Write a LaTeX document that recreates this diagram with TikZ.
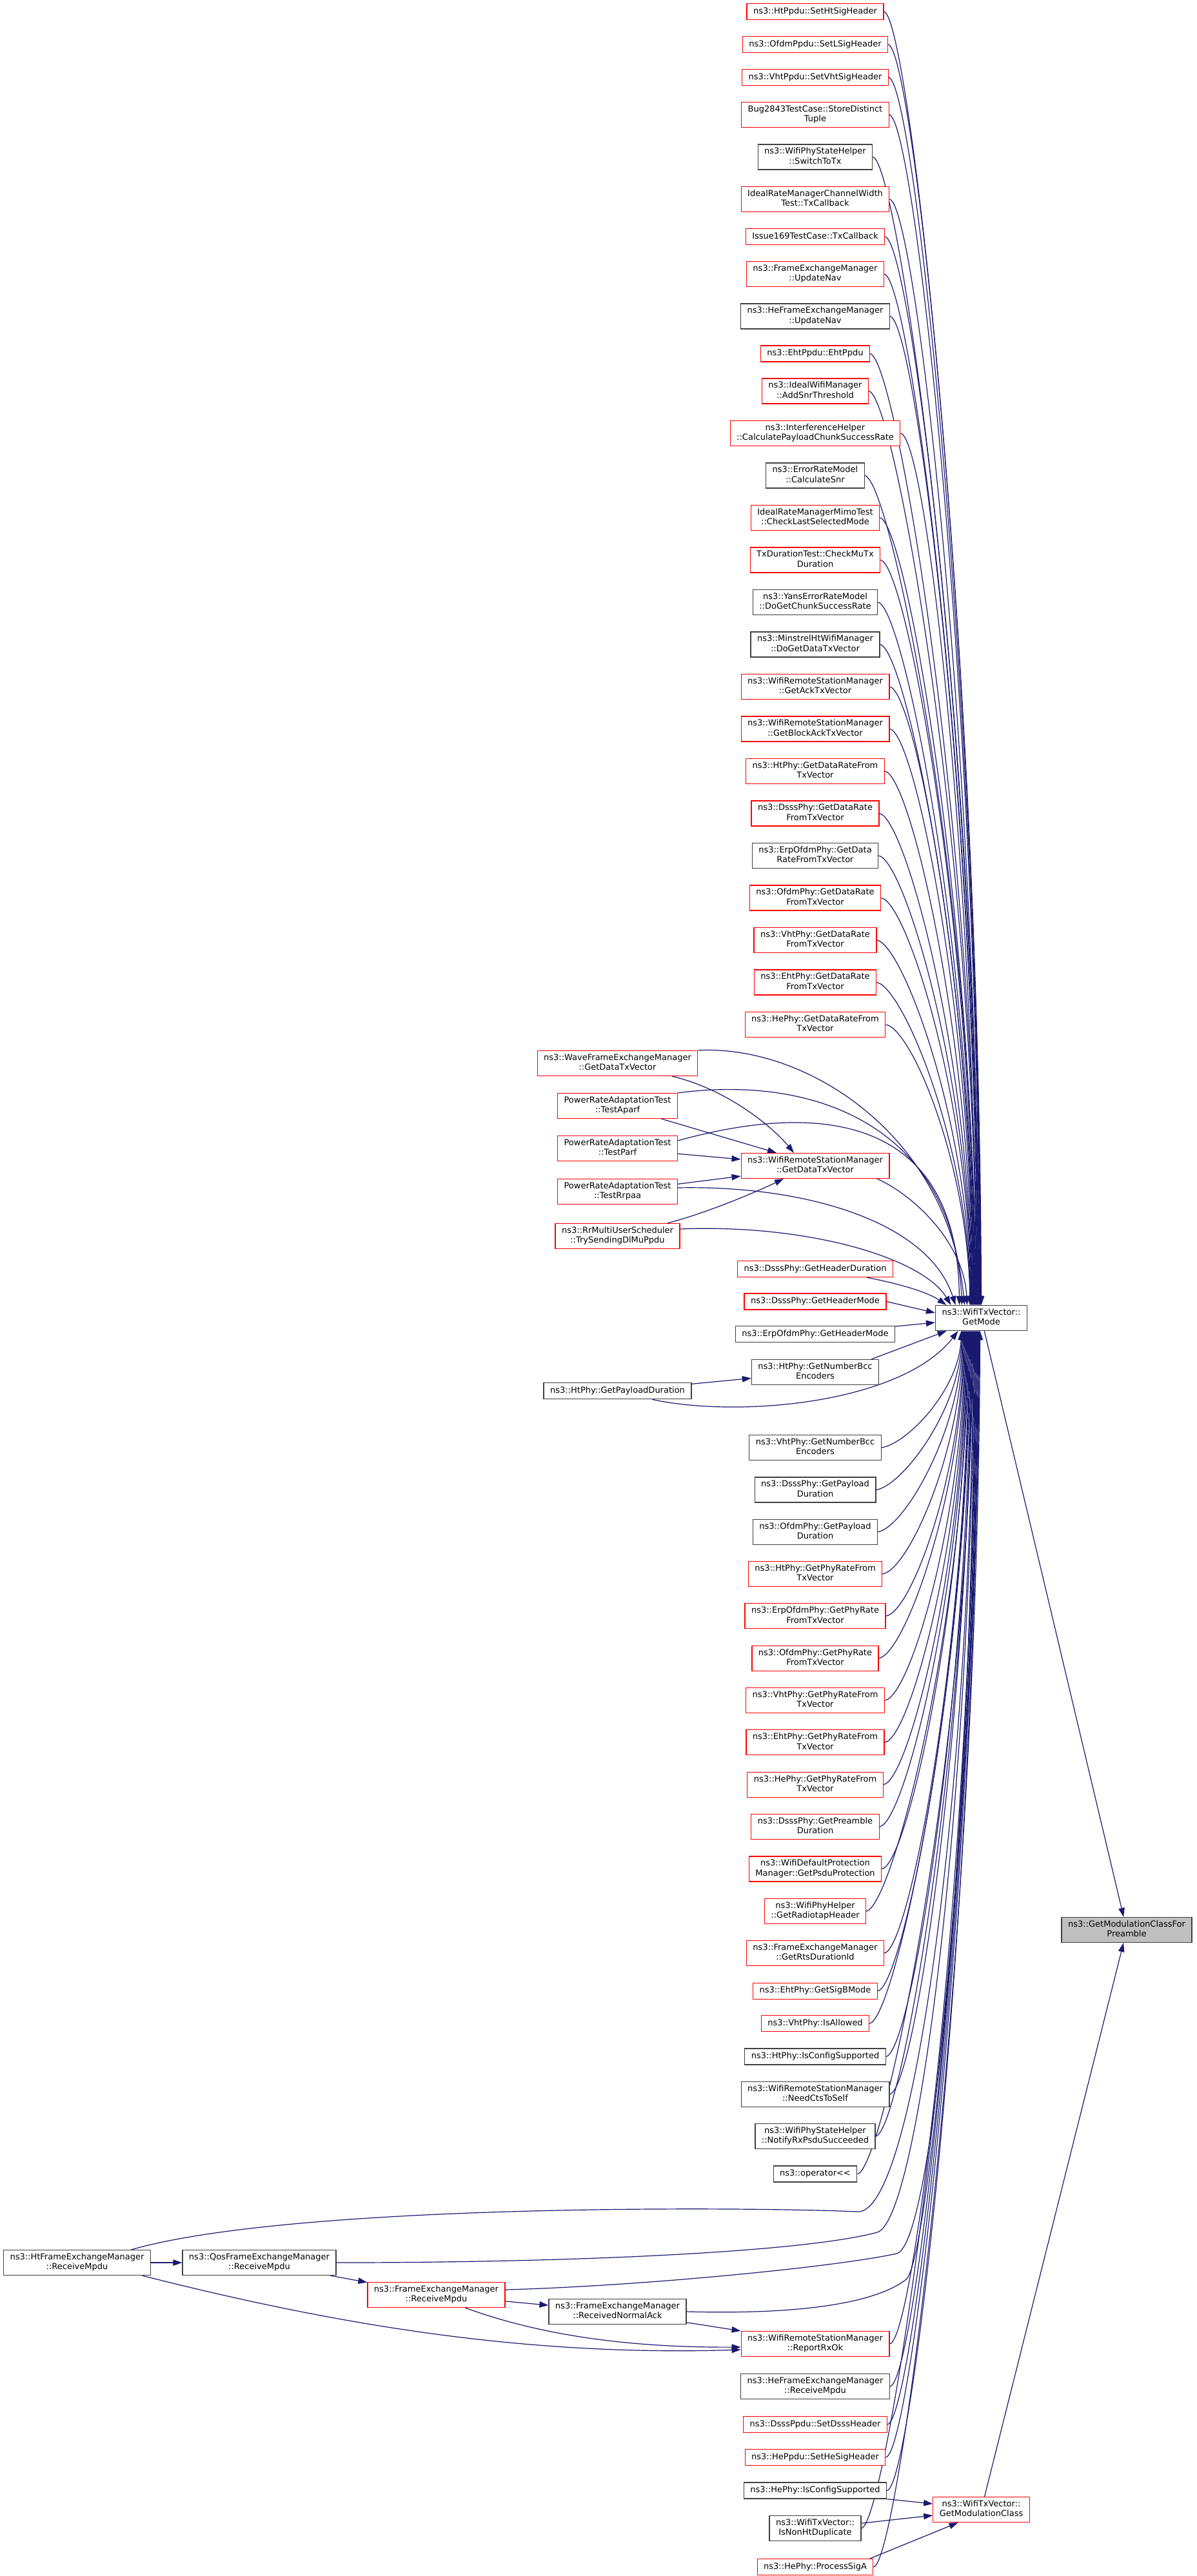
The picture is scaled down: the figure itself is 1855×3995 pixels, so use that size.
\documentclass[tikz,border=0pt]{standalone}
\usepackage{fontspec}
\newfontfamily\dv{DejaVu Sans}
\usetikzlibrary{arrows.meta}
\definecolor{edgec}{HTML}{191970}
\definecolor{redb}{HTML}{FF0000}
\definecolor{blkb}{HTML}{404040}
\definecolor{rootfill}{HTML}{BFBFBF}
\pgfdeclarelayer{bg}
\pgfsetlayers{bg,main}
\newcommand\lone[1]{\strut#1}
\newcommand\ltwo[2]{\strut#1\\\strut#2}
\tikzset{
  nd/.style={draw, line width=1.2pt, fill=white, font=\dv\fontsize{13}{15.4}\selectfont,
    align=center, inner xsep=10pt, inner ysep=2pt, minimum height=25pt, text=black},
  rn/.style={nd, draw=redb},
  bn/.style={nd, draw=blkb},
  two/.style={minimum height=39pt},
  edge/.style={draw=edgec, line width=1.2pt, -{Triangle[length=14pt,width=9.5pt]}},
}
\newcommand\eT[3]{\draw[edge] (#1.east) .. controls +(40,6) and +(-3,-#2) .. ([xshift=#3pt]gm.north);}
\newcommand\eB[3]{\draw[edge] (#1.east) .. controls +(40,-6) and +(-3,#2) .. ([xshift=#3pt]gm.south);}
\begin{document}
\begin{tikzpicture}[x=1pt,y=-1pt]
\useasboundingbox (0,0) rectangle (1855,3995);
% main column
\node[rn] (n1) at (1264,18) {\lone{ns3::HtPpdu::SetHtSigHeader}};
\node[rn] (n2) at (1264,69) {\lone{ns3::OfdmPpdu::SetLSigHeader}};
\node[rn] (n3) at (1264,120) {\lone{ns3::VhtPpdu::SetVhtSigHeader}};
\node[rn,two] (n4) at (1264,178) {\ltwo{Bug2843TestCase::StoreDistinct}{Tuple}};
\node[bn,two] (n5) at (1264,243.5) {\ltwo{ns3::WifiPhyStateHelper}{::SwitchToTx}};
\node[rn,two] (n6) at (1264,309) {\ltwo{IdealRateManagerChannelWidth}{Test::TxCallback}};
\node[rn] (n7) at (1264,367) {\lone{Issue169TestCase::TxCallback}};
\node[rn,two] (n8) at (1264,425) {\ltwo{ns3::FrameExchangeManager}{::UpdateNav}};
\node[bn,two] (n9) at (1264,490.5) {\ltwo{ns3::HeFrameExchangeManager}{::UpdateNav}};
\node[rn] (n10) at (1264,548.5) {\lone{ns3::EhtPpdu::EhtPpdu}};
\node[rn,two] (n11) at (1264,606.5) {\ltwo{ns3::IdealWifiManager}{::AddSnrThreshold}};
\node[rn,two] (n12) at (1264,672) {\ltwo{ns3::InterferenceHelper}{::CalculatePayloadChunkSuccessRate}};
\node[bn,two] (n13) at (1264,737.5) {\ltwo{ns3::ErrorRateModel}{::CalculateSnr}};
\node[rn,two] (n14) at (1264,803) {\ltwo{IdealRateManagerMimoTest}{::CheckLastSelectedMode}};
\node[rn,two] (n15) at (1264,868.5) {\ltwo{TxDurationTest::CheckMuTx}{Duration}};
\node[bn,two] (n16) at (1264,934) {\ltwo{ns3::YansErrorRateModel}{::DoGetChunkSuccessRate}};
\node[bn,two] (n17) at (1264,999.5) {\ltwo{ns3::MinstrelHtWifiManager}{::DoGetDataTxVector}};
\node[rn,two] (n18) at (1264,1065) {\ltwo{ns3::WifiRemoteStationManager}{::GetAckTxVector}};
\node[rn,two] (n19) at (1264,1130.5) {\ltwo{ns3::WifiRemoteStationManager}{::GetBlockAckTxVector}};
\node[rn,two] (n20) at (1264,1196) {\ltwo{ns3::HtPhy::GetDataRateFrom}{TxVector}};
\node[rn,two] (n21) at (1264,1261.5) {\ltwo{ns3::DsssPhy::GetDataRate}{FromTxVector}};
\node[bn,two] (n22) at (1264,1327) {\ltwo{ns3::ErpOfdmPhy::GetData}{RateFromTxVector}};
\node[rn,two] (n23) at (1264,1392.5) {\ltwo{ns3::OfdmPhy::GetDataRate}{FromTxVector}};
\node[rn,two] (n24) at (1264,1458) {\ltwo{ns3::VhtPhy::GetDataRate}{FromTxVector}};
\node[rn,two] (n25) at (1264,1523.5) {\ltwo{ns3::EhtPhy::GetDataRate}{FromTxVector}};
\node[rn,two] (n26) at (1264,1589) {\ltwo{ns3::HePhy::GetDataRateFrom}{TxVector}};
\node[rn,two] (wrsm) at (1264,1808) {\ltwo{ns3::WifiRemoteStationManager}{::GetDataTxVector}};
% left cluster
\node[rn,two] (wave) at (957.5,1649) {\ltwo{ns3::WaveFrameExchangeManager}{::GetDataTxVector}};
\node[rn,two] (aparf) at (957.5,1715) {\ltwo{PowerRateAdaptationTest}{::TestAparf}};
\node[rn,two] (parf) at (957.5,1781) {\ltwo{PowerRateAdaptationTest}{::TestParf}};
\node[rn,two] (rrpaa) at (957.5,1848) {\ltwo{PowerRateAdaptationTest}{::TestRrpaa}};
\node[rn,two] (rrmu) at (957.5,1917) {\ltwo{ns3::RrMultiUserScheduler}{::TrySendingDlMuPpdu}};
\node[rn] (hd) at (1264,1968) {\lone{ns3::DsssPhy::GetHeaderDuration}};
\node[rn] (hm1) at (1264,2018.5) {\lone{ns3::DsssPhy::GetHeaderMode}};
\node[bn] (hm2) at (1264,2069) {\lone{ns3::ErpOfdmPhy::GetHeaderMode}};
\node[bn,two] (bcc) at (1264,2128) {\ltwo{ns3::HtPhy::GetNumberBcc}{Encoders}};
\node[bn] (gpd) at (957.5,2157.3) {\lone{ns3::HtPhy::GetPayloadDuration}};
\node[bn,two] (m32) at (1264,2245) {\ltwo{ns3::VhtPhy::GetNumberBcc}{Encoders}};
\node[bn,two] (m33) at (1264,2310.5) {\ltwo{ns3::DsssPhy::GetPayload}{Duration}};
\node[bn,two] (m34) at (1264,2375.7) {\ltwo{ns3::OfdmPhy::GetPayload}{Duration}};
\node[rn,two] (m35) at (1264,2441) {\ltwo{ns3::HtPhy::GetPhyRateFrom}{TxVector}};
\node[rn,two] (m36) at (1264,2506.3) {\ltwo{ns3::ErpOfdmPhy::GetPhyRate}{FromTxVector}};
\node[rn,two] (m37) at (1264,2571.7) {\ltwo{ns3::OfdmPhy::GetPhyRate}{FromTxVector}};
\node[rn,two] (m38) at (1264,2637) {\ltwo{ns3::VhtPhy::GetPhyRateFrom}{TxVector}};
\node[rn,two] (m39) at (1264,2702.3) {\ltwo{ns3::EhtPhy::GetPhyRateFrom}{TxVector}};
\node[rn,two] (m40) at (1264,2767.7) {\ltwo{ns3::HePhy::GetPhyRateFrom}{TxVector}};
\node[rn,two] (m41) at (1264,2833) {\ltwo{ns3::DsssPhy::GetPreamble}{Duration}};
\node[rn,two] (m42) at (1264,2898.5) {\ltwo{ns3::WifiDefaultProtection}{Manager::GetPsduProtection}};
\node[rn,two] (m43) at (1264,2964) {\ltwo{ns3::WifiPhyHelper}{::GetRadiotapHeader}};
\node[rn,two] (m44) at (1264,3029) {\ltwo{ns3::FrameExchangeManager}{::GetRtsDurationId}};
\node[rn] (m45) at (1264,3087.6) {\lone{ns3::EhtPhy::GetSigBMode}};
\node[rn] (m46) at (1264,3138) {\lone{ns3::VhtPhy::IsAllowed}};
\node[bn] (m47) at (1264,3189.4) {\lone{ns3::HtPhy::IsConfigSupported}};
\node[bn,two] (m48) at (1264,3247.8) {\ltwo{ns3::WifiRemoteStationManager}{::NeedCtsToSelf}};
\node[bn,two] (m49) at (1264,3313) {\ltwo{ns3::WifiPhyStateHelper}{::NotifyRxPsduSucceeded}};
\node[bn] (m50) at (1264,3371.5) {\lone{ns3::operator<<}};
% bottom left cluster
\node[bn,two] (htfem) at (119.5,3509) {\ltwo{ns3::HtFrameExchangeManager}{::ReceiveMpdu}};
\node[bn,two] (qos) at (402,3509) {\ltwo{ns3::QosFrameExchangeManager}{::ReceiveMpdu}};
\node[rn,two] (femrx) at (676.5,3559) {\ltwo{ns3::FrameExchangeManager}{::ReceiveMpdu}};
\node[bn,two] (rna) at (957.5,3585) {\ltwo{ns3::FrameExchangeManager}{::ReceivedNormalAck}};
\node[rn,two] (rrx) at (1264,3635) {\ltwo{ns3::WifiRemoteStationManager}{::ReportRxOk}};
\node[bn,two] (herx) at (1264,3701) {\ltwo{ns3::HeFrameExchangeManager}{::ReceiveMpdu}};
\node[rn] (dsssh) at (1264,3760) {\lone{ns3::DsssPpdu::SetDsssHeader}};
\node[rn] (hesig) at (1264,3811) {\lone{ns3::HePpdu::SetHeSigHeader}};
\node[bn] (isc2) at (1264,3862.5) {\lone{ns3::HePhy::IsConfigSupported}};
\node[bn,two] (nonht) at (1264,3921) {\ltwo{ns3::WifiTxVector::}{IsNonHtDuplicate}};
\node[rn] (psa) at (1264,3981) {\lone{ns3::HePhy::ProcessSigA}};
% right side
\node[bn,two] (gm) at (1521.5,2044) {\ltwo{ns3::WifiTxVector::}{GetMode}};
\node[rn,two] (gmc) at (1521.5,3892) {\ltwo{ns3::WifiTxVector::}{GetModulationClass}};
\node[bn,two,fill=rootfill] (root) at (1747,2993) {\ltwo{ns3::GetModulationClassFor}{Preamble}};

\begin{pgfonlayer}{bg}
\fill[white] (0,0) rectangle (1855,3995);
% top callers of GetMode
\eT{n1}{1003}{0}
\eT{n2}{978}{-0.7}
\eT{n3}{952}{-1.4}
\eT{n4}{923}{-2.1}
\eT{n5}{890}{-2.8}
\eT{n6}{858}{-3.5}
\eT{n7}{829}{-4.2}
\eT{n8}{800}{-4.9}
\eT{n9}{767}{-5.6}
\eT{n10}{738}{-6.3}
\eT{n11}{709}{-7}
\eT{n12}{676}{-7.7}
\eT{n13}{643}{-8.4}
\eT{n14}{611}{-9.1}
\eT{n15}{578}{-9.8}
\eT{n16}{545}{-10.5}
\eT{n17}{512}{-11.2}
\eT{n18}{480}{-11.9}
\eT{n19}{447}{-12.6}
\eT{n20}{414}{-13.3}
\eT{n21}{381}{-14}
\eT{n22}{349}{-14.7}
\eT{n23}{316}{-15.4}
\eT{n24}{283}{-16.1}
\eT{n25}{250}{-16.8}
\eT{n26}{218}{-17.5}
% left cluster
\draw[edge] (wave.north east) .. controls (1250,1620) and (1470,1760) .. ([xshift=-26pt]gm.north);
\draw[edge] (aparf.north east) .. controls (1280,1665) and (1480,1760) .. ([xshift=-30pt]gm.north);
\draw[edge] ([yshift=12pt]parf.east) .. controls (1300,1700) and (1485,1750) .. ([xshift=-34pt]gm.north);
\draw[edge] ([yshift=6pt]rrpaa.east) .. controls (1250,1838) and (1440,1895) .. ([xshift=-40pt]gm.north);
\draw[edge] ([yshift=11pt]rrmu.east) .. controls (1250,1898) and (1430,1950) .. ([xshift=-47pt]gm.north);
\draw[edge] (wave) .. controls (1130,1690) and (1200,1750) .. ([xshift=-33pt]wrsm.north);
\draw[edge] (aparf) -- ([xshift=-60pt]wrsm.north);
\draw[edge] (parf) -- ([yshift=10pt]wrsm.west);
\draw[edge] (rrpaa) -- ([yshift=-16pt]wrsm.west);
\draw[edge] (rrmu) .. controls (1100,1880) and (1180,1845) .. ([xshift=-49pt]wrsm.south);
\draw[edge] ([xshift=96pt]wrsm.south) .. controls (1420,1855) and (1495,1930) .. ([xshift=-22pt]gm.north);
% near GetMode
\draw[edge] ([xshift=80pt]hd.south) .. controls (1400,1992) and (1440,2005) .. ([xshift=-54pt]gm.north);
\draw[edge] (hm1.east) -- ([yshift=8pt]gm.west);
\draw[edge] (hm2) -- ([yshift=-7pt]gm.west);
\draw[edge] ([xshift=87pt]bcc.north) -- ([xshift=-54pt]gm.south);
\draw[edge] ([xshift=54pt]gpd.south) .. controls (1150,2200) and (1400,2175) .. ([xshift=-36pt]gm.south);
\draw[edge] (gpd) -- (bcc);
% bottom callers of GetMode
\eB{m32}{90}{-31}
\eB{m33}{123}{-30}
\eB{m34}{156}{-29}
\eB{m35}{188}{-28}
\eB{m36}{221}{-27}
\eB{m37}{254}{-26}
\eB{m38}{286}{-25}
\eB{m39}{319}{-24}
\eB{m40}{352}{-23}
\eB{m41}{384}{-22}
\eB{m42}{417}{-21}
\eB{m43}{450}{-20}
\eB{m44}{482}{-19}
\eB{m45}{512}{-18}
\eB{m46}{537}{-17}
\eB{m47}{563}{-16}
\eB{m48}{592}{-15}
\eB{m49}{624}{-14}
\eB{m50}{654}{-13}
\eB{rrx}{785}{-8}
\eB{herx}{818}{-7}
\eB{dsssh}{848}{-6}
\eB{hesig}{873}{-5}
\eB{isc2}{899}{-4}
\eB{nonht}{928}{-3}
\eB{psa}{958}{-2}
% bottom-left cluster to GetMode
\draw[edge] ([xshift=84pt]htfem.north) .. controls (450,3418) and (1150,3422) .. (1330,3430) .. controls (1420,3434) and (1506.5,2747) .. ([xshift=-12pt]gm.south);
\draw[edge] (qos.east) .. controls (900,3509) and (1250,3492) .. (1360,3462) .. controls (1426,3444) and (1507.5,2763) .. ([xshift=-11pt]gm.south);
\draw[edge] ([yshift=8pt]femrx.east) .. controls (1000,3545) and (1300,3515) .. (1390,3495) .. controls (1450,3482) and (1508.5,2780) .. ([xshift=-10pt]gm.south);
\draw[edge] (rna.east) .. controls (1250,3590) and (1360,3570) .. (1405,3535) .. controls (1440,3507) and (1509.5,2800) .. ([xshift=-9pt]gm.south);
% bottom-left internal
\draw[edge] (htfem) -- (qos);
\draw[edge] (qos) -- (femrx);
\draw[edge] (femrx) -- (rna);
\draw[edge] ([xshift=101pt]htfem.south) .. controls (500,3600) and (800,3655) .. ([yshift=-9pt]rrx.west);
\draw[edge] ([xshift=45pt]femrx.south) .. controls (820,3615) and (950,3641) .. ([yshift=-5pt]rrx.west);
\draw[edge] (rna) -- (rrx.north west);
% GetModulationClass
\draw[edge] (isc2.south east) -- ([yshift=9pt]gmc.west);
\draw[edge] (nonht) -- ([yshift=-9pt]gmc.west);
\draw[edge] ([xshift=85pt]psa.north) -- ([xshift=-36pt]gmc.south);
\draw[edge] (gmc) -- (root);
\draw[edge] (gm) -- (root);
\end{pgfonlayer}
\end{tikzpicture}
\end{document}
